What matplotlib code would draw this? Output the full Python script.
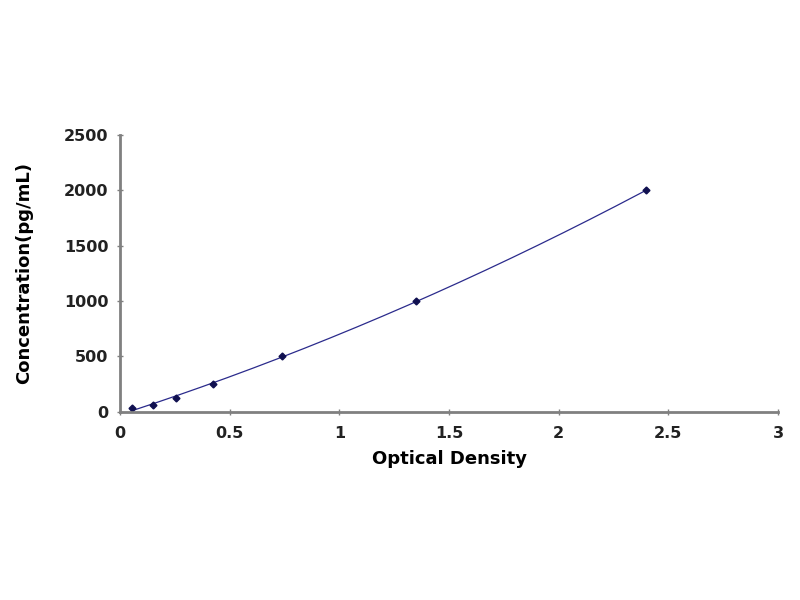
import matplotlib.pyplot as plt
import numpy as np

# standard curve data
od = [0.053, 0.152, 0.255, 0.422, 0.74, 1.35, 2.40]
conc = [31.25, 62.5, 125, 250, 500, 1000, 2000]

plt.rcParams['font.family'] = ['DejaVu Sans']
plt.rcParams['font.weight'] = 'bold'

fig = plt.figure(figsize=(8, 6), dpi=100)
ax = fig.add_axes([0.15, 0.314, 0.8225, 0.461])

# fitted curve through the standards
coef = np.polyfit(od, conc, 2)
xs = np.linspace(min(od), max(od), 200)
ax.plot(xs, np.polyval(coef, xs), color='#2b2b8c', lw=0.9)
ax.plot(od, conc, 'D', color='#101050', ms=3.5, mec='#101050')

ax.set_xlim(0, 3)
ax.set_ylim(0, 2500)
ax.set_xticks([0, 0.5, 1, 1.5, 2, 2.5, 3])
ax.set_xticklabels(['0', '0.5', '1', '1.5', '2', '2.5', '3'])
ax.set_yticks([0, 500, 1000, 1500, 2000, 2500])

for side in ['top', 'right']:
    ax.spines[side].set_visible(False)
for side in ['left', 'bottom']:
    ax.spines[side].set_color('#808080')
    ax.spines[side].set_linewidth(2)
ax.tick_params(direction='inout', length=5, width=1, color='#808080',
               labelsize=11.5, pad=6)
ax.tick_params(axis='x', pad=8)
for lab in ax.get_xticklabels() + ax.get_yticklabels():
    lab.set_fontweight('bold')
    lab.set_color('#222222')

ax.set_xlabel('Optical Density', fontsize=13, fontweight='bold', labelpad=6)
ax.set_ylabel('Concentration(pg/mL)', fontsize=13, fontweight='bold', labelpad=22)

fig.savefig('out.png')
